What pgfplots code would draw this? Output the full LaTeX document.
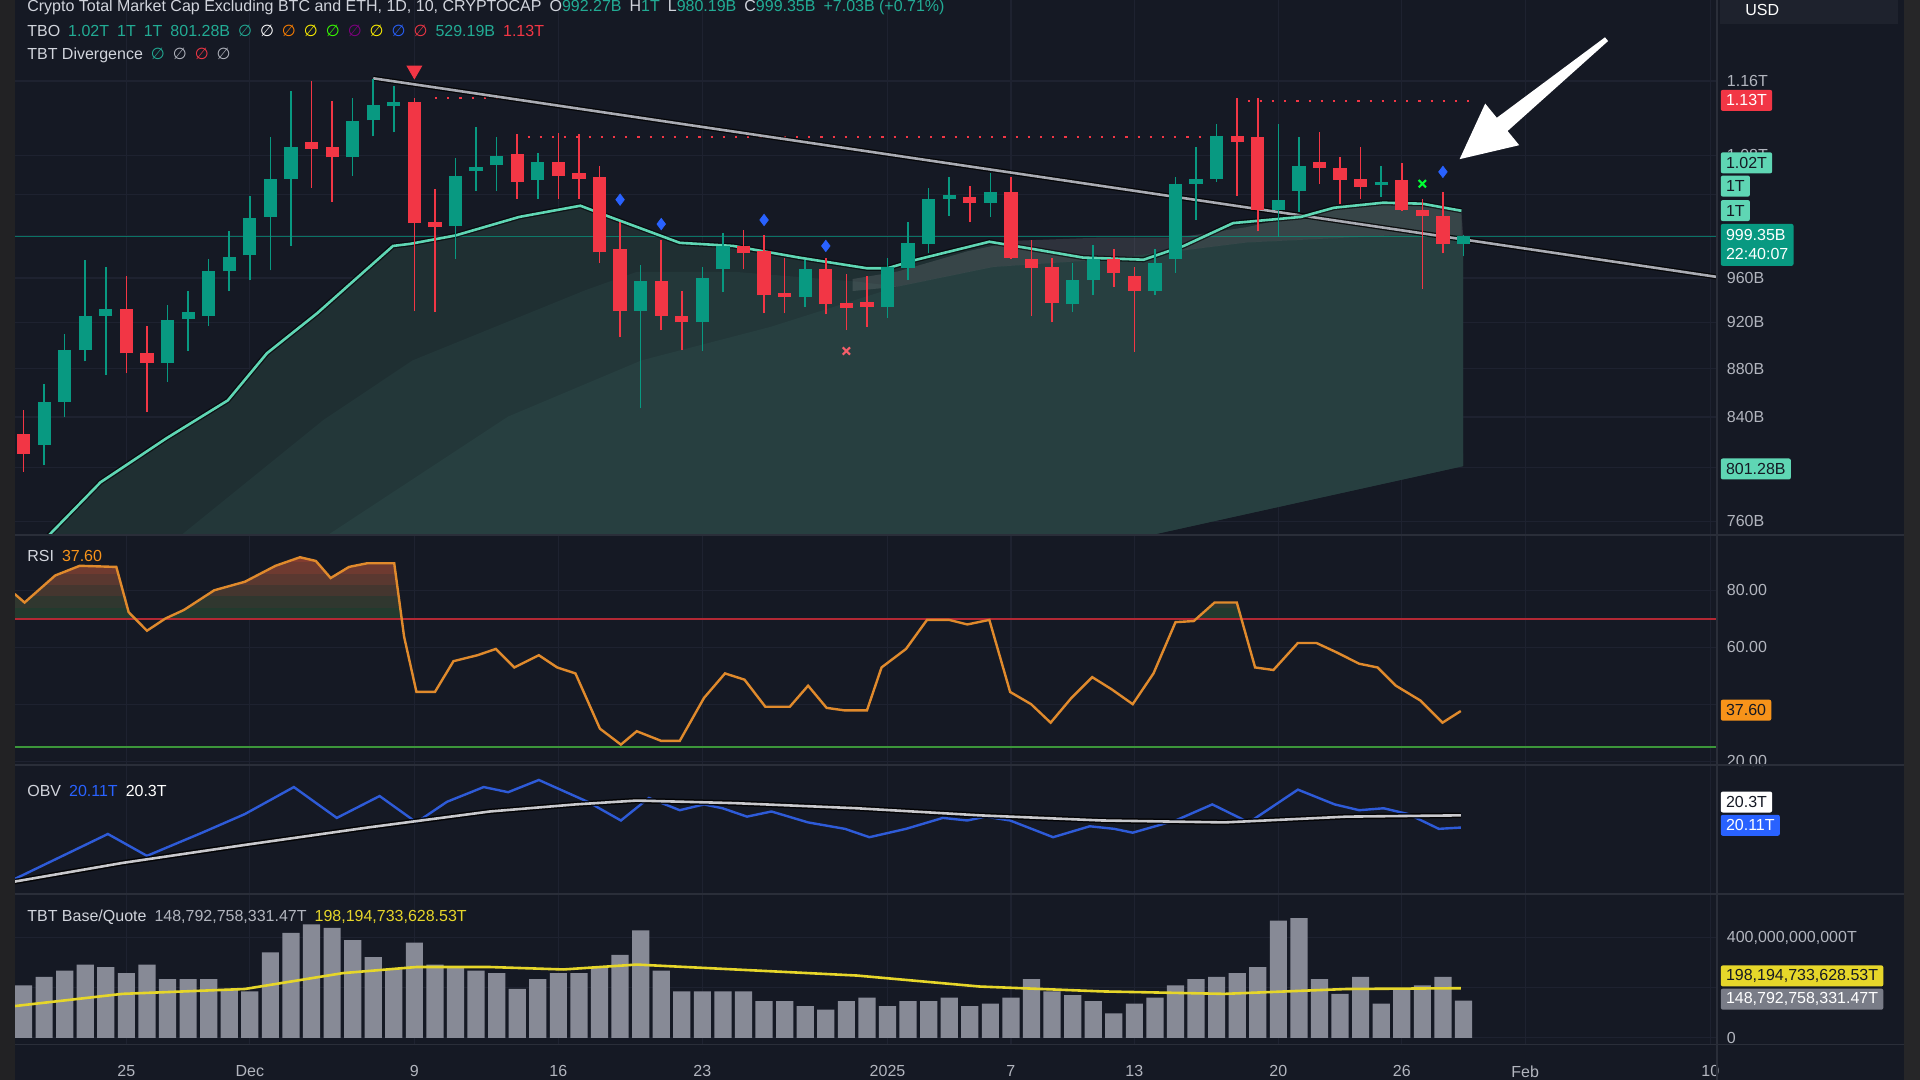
\documentclass[border=0pt]{standalone}
\usepackage{pgfplots}
\pgfplotsset{compat=1.18}
\usepackage{pgfplotstable}
\usepackage{fontspec}
\setmainfont{Liberation Sans}
\newfontfamily\djv{DejaVu Sans}

\definecolor{bg}{HTML}{151924}
\definecolor{gridc}{HTML}{1E2230}
\definecolor{sepc}{HTML}{2A2E39}
\definecolor{lab}{HTML}{B2B5BE}
\definecolor{txt}{HTML}{D1D4DC}
\definecolor{upc}{HTML}{089981}
\definecolor{dnc}{HTML}{F23645}
\definecolor{mint}{HTML}{5FD6B4}
\definecolor{fillD}{HTML}{1F2F32}
\definecolor{fillM}{HTML}{233739}
\definecolor{fillL}{HTML}{273F40}
\definecolor{rsic}{HTML}{E08A2C}
\definecolor{obvc}{HTML}{2E5BD8}
\definecolor{volc}{HTML}{878A96}
\definecolor{yel}{HTML}{E6D62A}
\definecolor{grn}{HTML}{22AB94}
\definecolor{bblue}{HTML}{2962FF}
\definecolor{orng}{HTML}{F7931A}
\definecolor{trend}{HTML}{A9ABB3}
\definecolor{rf1}{HTML}{223A2E}
\definecolor{rf2}{HTML}{30372F}
\definecolor{rf3}{HTML}{45362F}
\definecolor{rf4}{HTML}{5A3830}
\definecolor{rf5}{HTML}{6E3A30}
\definecolor{rf6}{HTML}{823C30}

\pgfplotstableread{
d o h l c
-10 818 867 802 852
-9 852 910 840 896
-8 896 977 886 926
-7 926 970 875 932
-4 885 935 869 922
-3 923 948 895 929
-2 926 978 917 966
-1 966 1004 948 980
0 981 1039 958 1017
1 1018 1099 967 1056
2 1056 1149 990 1089
5 1078 1141 1059 1116
6 1117 1162 1100 1133
7 1132 1154 1104 1137
10 1009 1077 978 1059
11 1064 1110 1044 1068
12 1070 1099 1044 1079
14 1055 1083 1036 1073
19 930 972 847 957
22 920 970 895 960
23 968 1002 947 990
27 943 977 934 968
31 934 979 924 970
32 969 1013 958 993
33 992 1047 983 1036
34 1036 1058 1019 1040
36 1032 1062 1018 1043
40 936 974 929 958
41 958 991 944 978
44 948 987 944 974
45 978 1058 965 1051
46 1051 1089 1015 1056
47 1056 1113 1053 1100
50 1025 1113 999 1035
51 1044 1099 1023 1069
55 1050 1069 1038 1053
59 992.27 1000 980.19 999.35
}\upT

\pgfplotstableread{
d o h l c
-11 826 846 797 811
-6 932 962 876 893
-5 893 917 844 885
3 1094 1160 1047 1087
4 1089 1138 1033 1078
8 1137 1141 930 1012
9 1013 1046 929 1008
13 1081 1102 1036 1053
15 1073 1103 1036 1059
16 1062 1102 1036 1056
17 1058 1069 974 984
18 987 1013 907 930
20 957 996 913 926
21 926 948 896 920
24 990 1005 968 983
25 985 1000 928 944
26 946 979 928 943
28 968 979 927 936
29 937 964 913 933
30 938 962 916 934
35 1038 1049 1013 1032
37 1043 1058 978 979
38 978 996 926 969
39 970 979 920 937
42 978 987 952 965
43 962 970 894 948
48 1100 1141 1039 1094
49 1099 1141 1004 1025
52 1073 1104 1051 1067
53 1067 1078 1031 1055
54 1056 1089 1036 1048
56 1055 1072 1024 1025
57 1025 1036 950 1019
58 1019 1043 983 992.27
}\dnT

\pgfplotstableread{
d v
-10.5 735
-9.76 750
-7.26 789
-4.05 823
-1.07 853.5
0.83 893
3.27 928
6.96 990
7.8 992
10 1000
13.1 1018
16.07 1029
17.5 1018
20.9 993
23.5 990
26.7 979
30 969
31 969
32.4 977
35.95 994
38.1 987
40.5 979
43.45 977
45.4 990
47.8 1012
51.1 1018
52.7 1027
55.1 1032
57 1031
58.9 1024
}\maT

\pgfplotstableread{
d v
-11.43 78.7
-10.95 75.7
-9.46 85.2
-8.27 88.6
-6.49 88.2
-5.89 72.3
-5 65.8
-4.1 70.1
-3.2 73.1
-1.73 80
-0.24 83
1.25 88.6
2.44 91.6
3.21 90.3
3.93 84.3
4.82 88.2
5.71 89.5
7.02 89.5
7.5 63.7
8.1 44.3
9 44.3
9.9 55.1
11.07 57.2
11.96 59.4
12.86 52.9
14.05 57.2
14.94 52.9
15.83 50.8
17.02 31.4
18.04 25.8
18.81 30.5
20 27.1
20.9 27.1
22.08 42.2
23.1 50.8
24.05 48.6
25.06 39.1
26.25 39.1
27.14 46.5
28.04 38.7
28.93 37.8
30 37.8
30.71 52.9
31.9 59.4
32.92 69.6
33.99 69.6
34.88 68
35.95 69.6
36.96 44.3
37.98 40
38.93 33.5
39.94 42.2
40.95 49.5
41.9 45.2
42.92 40
43.93 50.8
45 68.8
45.89 69.2
46.9 75.7
47.98 75.7
48.87 52.9
49.76 52
50.95 61.5
51.85 61.5
52.86 58.1
53.93 54.2
54.82 52.9
55.71 46.5
56.9 41.3
57.98 33.5
58.87 37.6
}\rsiT

\pgfplotstableread{
d v
-11.43 19.31
-6.9 20.01
-5 19.67
-2.32 20.03
-0.24 20.32
2.14 20.74
4.23 20.26
6.31 20.60
8.1 20.19
9.58 20.51
11.37 20.74
12.56 20.66
14.05 20.85
16.43 20.51
18.04 20.22
19.4 20.57
20.9 20.38
22.08 20.47
22.98 20.41
24.17 20.28
25.36 20.36
27.14 20.19
28.93 20.09
30.12 19.96
31.9 20.09
33.69 20.26
34.88 20.22
35.77 20.28
36.96 20.22
39.05 19.96
40.83 20.13
42.02 20.09
42.92 20.03
45 20.22
46.79 20.47
48.57 20.19
50.95 20.70
52.74 20.47
53.93 20.38
55.12 20.41
56.31 20.32
57.8 20.09
58.87 20.11
}\obvT

\pgfplotstableread{
d v
-11.43 19.27
-6.19 19.56
-0.24 19.84
5.71 20.11
11.67 20.36
15.83 20.47
18.81 20.53
23.57 20.49
29.52 20.41
35.48 20.30
41.43 20.22
47.38 20.19
53.33 20.28
58.87 20.30
}\obvmaT

\pgfplotstableread{
d v
-11 209.8
-10 243.9
-9 268.3
-8 292.7
-7 282.9
-6 258.5
-5 292.7
-4 234.1
-3 234.1
-2 234.1
-1 195.1
0 185.4
1 341.5
2 419.5
3 453.7
4 439.0
5 390.2
6 322.0
7 273.2
8 380.5
9 292.7
10 282.9
11 268.3
12 258.5
13 195.1
14 234.1
15 258.5
16 258.5
17 282.9
18 331.7
19 429.3
20 268.3
21 185.4
22 185.4
23 185.4
24 185.4
25 146.3
26 146.3
27 126.8
28 112.2
29 146.3
30 161.0
31 126.8
32 146.3
33 146.3
34 161.0
35 126.8
36 136.6
37 161.0
38 234.1
39 185.4
40 170.7
41 146.3
42 97.6
43 136.6
44 161.0
45 209.8
46 234.1
47 243.9
48 258.5
49 282.9
50 468.3
51 478.0
52 234.1
53 175.6
54 243.9
55 136.6
56 195.1
57 209.8
58 243.9
59 148.79
}\volT

\pgfplotstableread{
d v
-11.43 126.8
-6.19 175.6
-0.24 195.1
4.52 258.5
8.1 282.9
11.67 282.9
15.24 273.2
18.81 292.7
23.57 273.2
29.52 248.8
35.48 204.9
41.43 185.4
47.38 175.6
53.33 195.1
58.87 198.19
}\vmaT

\pgfplotsset{
  pane/.style={scale only axis, anchor=south west, width=851pt,
    xmin=-11.43, xmax=71.31,
    axis line style={draw=none}, major tick length=0pt,
    xtick={-6,0,8,15,22,31,37,43,50,56,62,71},
    xticklabels={}, yticklabels={},
    xmajorgrids, ymajorgrids, grid style={gridc, line width=0.6pt},
    clip mode=individual},
  candle/.style={draw=none, mark=none, error bars/.cd, y dir=plus, y explicit, error mark=none},
}
\tikzset{
  rlab/.style={anchor=west, xshift=4.9pt, inner sep=0pt, text=lab, font=\fontsize{8}{9.6}\selectfont},
  dlab/.style={text=lab, inner sep=0pt, font=\fontsize{8}{9.6}\selectfont, yshift=-13.5pt},
}
\newcommand\nul[1]{{\djv\color{#1}∅}}
\newcommand\rsiband[2]{%
\begin{scope}
\clip (axis cs:-11.43,#1) rectangle (axis cs:71.31,99.35);
\addplot[fill=#2, draw=none] table {\rsiT} \closedcycle;
\end{scope}}

\begin{document}
\begin{tikzpicture}
\path[use as bounding box] (0,0) rectangle (960pt,540pt);
\fill[bg] (0,0) rectangle (960pt,540pt);

% ---------------- main price pane ----------------
\begin{axis}[pane, at={(7.35pt,272.4pt)}, height=267.6pt,
  ymode=log, ymin=750, ymax=1254,
  ytick={760,800,840,880,920,960,1000,1040,1080,1160}]
% area under the average, three tones
\addplot[fill=fillD, draw=none] coordinates {(-10.5,735) (-9.76,750) (-7.26,789) (-4.05,823) (-1.07,853.5) (0.83,893) (3.27,928) (6.96,990) (7.8,992) (10,1000) (13.1,1018) (16.07,1029) (17.5,1018) (20.9,993) (23.5,990) (26.7,979) (30,969) (31,969) (32.4,977) (35.95,994) (38.1,987) (40.5,979) (43.45,977) (45.4,990) (47.8,1012) (51.1,1018) (52.7,1027) (55.1,1032) (57,1031) (58.9,1024) (58.98,801.28) (43.8,750) (43.8,700) (-10.5,700)} -- cycle;
\addplot[fill=fillM, draw=none] coordinates {(-3.75,745) (3.57,837.5) (7.92,887) (16.31,948.8) (18.81,965.7) (23.57,965.7) (29.52,956.6) (31.49,952.1) (36.13,970.2) (41.43,977.1) (45.12,985.2) (48.45,993.3) (55.71,1000.3) (58.98,1000.3) (58.98,801.28) (43.8,750) (43.8,700) (-3.75,700)} -- cycle;
\addplot[fill=fillL, draw=none] coordinates {(3.27,745) (12.56,840.4) (19.05,887) (25.3,915.9) (31.49,952.1) (36.13,970.2) (41.43,977.1) (45.12,985.2) (48.45,993.3) (55.71,1000.3) (58.98,1000.3) (58.98,801.28) (43.8,750) (43.8,700) (3.27,700)} -- cycle;
% light band near the average
\addplot[fill=white, fill opacity=0.11, draw=none] coordinates {(29.3,959) (31.5,966) (34.9,985) (37.3,995) (41.4,998) (45.1,998) (48.45,1008) (52.1,1024) (55.7,1032) (58.9,1024) (58.98,1000.3) (55.71,1000.3) (48.45,993.3) (45.12,985.2) (41.43,977.1) (36.13,970.2) (31.49,952.1) (29.3,948)} -- cycle;
\addplot[upc, line width=0.5pt, opacity=0.7] coordinates {(-11.43,999.35) (71.31,999.35)};
\addplot[dnc, line width=1.1pt, dash pattern=on 1.1pt off 5pt] coordinates {(9,1141) (13,1141)};
\addplot[dnc, line width=1.1pt, dash pattern=on 1.1pt off 5pt] coordinates {(13.5,1099) (46.5,1099)};
\addplot[dnc, line width=1.1pt, dash pattern=on 1.1pt off 5pt] coordinates {(48.5,1138) (59.5,1138)};
\addplot[black, line width=2.6pt, opacity=0.8] coordinates {(6,1163) (71.31,961)};
\addplot[trend, line width=1.3pt] coordinates {(6,1163) (71.31,961)};
\addplot[black, line width=2.6pt, opacity=0.6] table {\maT};
\addplot[mint, line width=1.3pt] table {\maT};
\addplot[candle, error bar style={draw=upc, line width=0.8pt, solid}]
  table[x=d, y=l, y error plus expr=\thisrow{h}-\thisrow{l}] {\upT};
\addplot[candle, error bar style={draw=dnc, line width=0.8pt, solid}]
  table[x=d, y=l, y error plus expr=\thisrow{h}-\thisrow{l}] {\dnT};
\addplot[candle, error bar style={draw=upc, line width=6.6pt, solid}]
  table[x=d, y=o, y error plus expr=\thisrow{c}-\thisrow{o}] {\upT};
\addplot[candle, error bar style={draw=dnc, line width=6.6pt, solid}]
  table[x=d, y=c, y error plus expr=\thisrow{o}-\thisrow{c}] {\dnT};
\addplot[only marks, mark=triangle*, mark size=4.2pt, color=dnc, mark options={rotate=180}] coordinates {(8,1172)};
\addplot[only marks, mark=diamond*, mark size=2.8pt, color=bblue] coordinates {(18,1035) (20,1011) (25,1015) (28,990) (58,1063)};
\addplot[only marks, mark=x, mark size=2.6pt, line width=1pt, color=dnc!80!white] coordinates {(29,895)};
\addplot[only marks, mark=x, mark size=2.6pt, line width=1pt, color=green!80!cyan] coordinates {(57,1051)};
\node[rlab] at (axis cs:71.31,1160) {1.16T};
\node[rlab] at (axis cs:71.31,1080) {1.08T};
\node[rlab] at (axis cs:71.31,960) {960B};
\node[rlab] at (axis cs:71.31,920) {920B};
\node[rlab] at (axis cs:71.31,880) {880B};
\node[rlab] at (axis cs:71.31,840) {840B};
\node[rlab] at (axis cs:71.31,760) {760B};
\end{axis}

% ---------------- RSI pane ----------------
\begin{axis}[pane, at={(7.35pt,157.3pt)}, height=115.1pt,
  ymin=18.5, ymax=99.35, ytick={20,40,60,80}]
\rsiband{70}{rf1}
\rsiband{74}{rf2}
\rsiband{78}{rf3}
\rsiband{82}{rf4}
\rsiband{86}{rf5}
\rsiband{90}{rf6}
\addplot[color={rgb,255:red,178;green,40;blue,52}, line width=1.2pt] coordinates {(-11.43,70) (71.31,70)};
\addplot[color={rgb,255:red,60;green,150;blue,58}, line width=1.2pt] coordinates {(-11.43,25) (71.31,25)};
\addplot[rsic, line width=1.2pt] table {\rsiT};
\node[rlab] at (axis cs:71.31,80) {80.00};
\node[rlab] at (axis cs:71.31,60) {60.00};
\node[rlab] at (axis cs:71.31,20) {20.00};
\end{axis}

% ---------------- OBV pane ----------------
\begin{axis}[pane, at={(7.35pt,93.1pt)}, height=64.3pt,
  ymin=19.08, ymax=21.08, ytick=\empty]
\addplot[obvc, line width=1.2pt] table {\obvT};
\addplot[black, line width=2.8pt, opacity=0.85] table {\obvmaT};
\addplot[color={rgb,255:red,200;green,200;blue,204}, line width=1.3pt] table {\obvmaT};
\end{axis}

% ---------------- Volume pane ----------------
\begin{axis}[pane, at={(7.35pt,17.8pt)}, height=75.3pt,
  ymin=-26.4, ymax=575.6, ytick={0,200,400}]
\addplot[ybar, bar width=8.6pt, fill=volc, draw=none] table {\volT};
\addplot[yel, line width=1.3pt] table {\vmaT};
\node[rlab] at (axis cs:71.31,400) {400,000,000,000T};
\node[rlab] at (axis cs:71.31,0) {0};
\node[dlab] at (axis cs:-6,-26.4) {25};
\node[dlab] at (axis cs:0,-26.4) {Dec};
\node[dlab] at (axis cs:8,-26.4) {9};
\node[dlab] at (axis cs:15,-26.4) {16};
\node[dlab] at (axis cs:22,-26.4) {23};
\node[dlab] at (axis cs:31,-26.4) {2025};
\node[dlab] at (axis cs:37,-26.4) {7};
\node[dlab] at (axis cs:43,-26.4) {13};
\node[dlab] at (axis cs:50,-26.4) {20};
\node[dlab] at (axis cs:56,-26.4) {26};
\node[dlab] at (axis cs:62,-26.4) {Feb};
\node[dlab] at (axis cs:71,-26.4) {10};
\end{axis}

% ---------------- overlay in reference pixel units ----------------
\begin{scope}[shift={(0,540pt)}, x=0.61225pt, y=-0.61225pt,
  lbl/.style={anchor=west, inner sep=0pt, font=\fontsize{8}{9.6}\selectfont},
  badge/.style={anchor=west, inner xsep=2.6pt, inner ysep=0pt, minimum height=10.5pt, font=\fontsize{8}{9.6}\selectfont, rounded corners=1pt}]
\fill[color={rgb,255:red,34;green,34;blue,36}] (0,0) rectangle (12,882);
\fill[color={rgb,255:red,38;green,38;blue,40}] (1555,0) rectangle (1568,882);
\draw[sepc, line width=0.8pt] (12,437) -- (1555,437);
\draw[sepc, line width=0.8pt] (12,625) -- (1555,625);
\draw[sepc, line width=0.8pt] (12,730) -- (1555,730);
\draw[sepc, line width=0.8pt] (12,853) -- (1555,853);
\draw[sepc, line width=0.8pt] (1402,0) -- (1402,882);
\fill[color={rgb,255:red,30;green,34;blue,45}] (1405,-3) rectangle (1550,20);
\node[lbl, text=white] at (1425,8) {USD};
\node[lbl, text=txt] at (22,6) {Crypto Total Market Cap Excluding BTC and ETH, 1D, 10, CRYPTOCAP\enspace O\textcolor{grn}{992.27B}\enspace H\textcolor{grn}{1T}\enspace L\textcolor{grn}{980.19B}\enspace C\textcolor{grn}{999.35B}\enspace\textcolor{grn}{+7.03B (+0.71\%)}};
\node[lbl, text=txt] at (22,25) {TBO\enspace\textcolor{grn}{1.02T}\enspace\textcolor{grn}{1T}\enspace\textcolor{grn}{1T}\enspace\textcolor{grn}{801.28B}\enspace\nul{grn}\enspace\nul{white}\enspace\nul{orange}\enspace\nul{yellow}\enspace\nul{green!70!lime}\enspace\nul{violet}\enspace\nul{yellow}\enspace\nul{bblue}\enspace\nul{dnc}\enspace\textcolor{grn}{529.19B}\enspace\textcolor{dnc}{1.13T}};
\node[lbl, text=txt] at (22,45) {TBT Divergence\enspace\nul{grn}\enspace\nul{lab}\enspace\nul{dnc}\enspace\nul{lab}};
\node[lbl, text=txt] at (22,454) {RSI\enspace\textcolor{orng}{37.60}};
\node[lbl, text=txt] at (22,646) {OBV\enspace\textcolor{bblue}{20.11T}\enspace\textcolor{white}{20.3T}};
\node[lbl, text=txt] at (22,749) {TBT Base/Quote\enspace\textcolor{lab}{148,792,758,331.47T}\enspace\textcolor{yel}{198,194,733,628.53T}};
\node[badge, fill=dnc, text=white] at (1405,82) {1.13T};
\node[badge, fill=mint, text=bg] at (1405,133) {1.02T};
\node[badge, fill=mint, text=bg] at (1405,152) {1T};
\node[badge, fill=mint, text=bg] at (1405,172) {1T};
\node[badge, fill=upc, text=white, align=left, minimum height=21pt] at (1405,200) {999.35B\\22:40:07};
\node[badge, fill=mint, text=bg] at (1405,383) {801.28B};
\node[badge, fill=orng, text=bg] at (1405,580) {37.60};
\node[badge, fill=white, text=bg] at (1405,655) {20.3T};
\node[badge, fill=bblue, text=white] at (1405,674) {20.11T};
\node[badge, fill=yel, text=bg] at (1405,797) {198,194,733,628.53T};
\node[badge, fill=volc!90!black, text=white] at (1405,816) {148,792,758,331.47T};
\fill[white] (1192,130) -- (1240.7,118.6) -- (1231.2,107.0) -- (1313.3,33.5) -- (1310.7,30.5) -- (1222.4,96.2) -- (1212.9,84.6) -- cycle;
\end{scope}
\end{tikzpicture}
\end{document}
